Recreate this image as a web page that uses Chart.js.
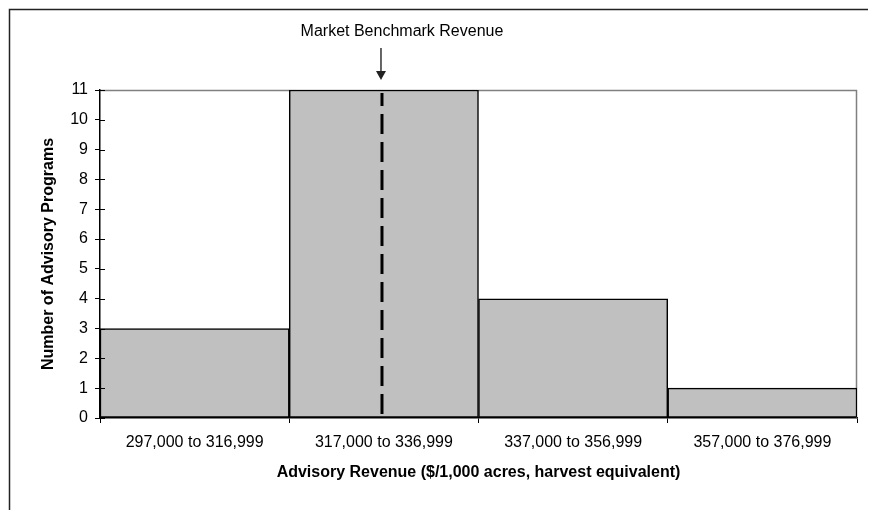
<!DOCTYPE html>
<html lang="en">
<head>
  <meta charset="UTF-8">
  <title>Advisory Revenue Distribution</title>
  <script src="https://cdn.jsdelivr.net/npm/chart.js"></script>
  <style>
    body {
      margin: 0;
      background-color: #ffffff;
    }
    #chart {
      display: block;
    }
  </style>
</head>
<body>
  <canvas id="chart" width="878" height="510"></canvas>

  <script>
    // Revenue bins ($/1,000 acres) and number of programs in each
    const binLabels = ['297,000 to 316,999', '317,000 to 336,999', '337,000 to 356,999', '357,000 to 376,999'];
    const programCounts = [3, 11, 4, 1];
    const yTicks = [0, 1, 2, 3, 4, 5, 6, 7, 8, 9, 10, 11];

    // Benchmark position, in revenue units
    const binStart = 297000;
    const binWidth = 20000;
    const benchmarkRevenue = 326800;
    const benchmarkLabel = 'Market Benchmark Revenue';

    const fontFamily = "'Liberation Sans', Arial, sans-serif";

    // Frame, plot border, inner y ticks, benchmark line and arrow
    const extrasPlugin = {
      id: 'extras',
      beforeDatasetsDraw(chart) {
        const ctx = chart.ctx;
        const a = chart.chartArea;
        ctx.save();
        ctx.strokeStyle = '#808080';
        ctx.lineWidth = 1.5;
        ctx.beginPath();
        ctx.moveTo(a.left, a.top + 0.5);
        ctx.lineTo(a.right - 0.5, a.top + 0.5);
        ctx.lineTo(a.right - 0.5, a.bottom);
        ctx.stroke();
        ctx.restore();
      },
      afterDraw(chart) {
        const ctx = chart.ctx;
        const a = chart.chartArea;
        const x = chart.scales.x;
        const y = chart.scales.y;
        ctx.save();

        // outer frame (top and left edges)
        ctx.strokeStyle = '#222222';
        ctx.lineWidth = 1.5;
        ctx.beginPath();
        ctx.moveTo(9.5, 510);
        ctx.lineTo(9.5, 9.5);
        ctx.lineTo(868, 9.5);
        ctx.stroke();

        // y ticks crossing into the plot
        ctx.strokeStyle = '#000000';
        ctx.lineWidth = 1;
        yTicks.forEach(function (v) {
          const py = Math.round(y.getPixelForValue(v)) + 0.5;
          ctx.beginPath();
          ctx.moveTo(a.left, py);
          ctx.lineTo(a.left + 5, py);
          ctx.stroke();
        });

        // benchmark dashed line
        const bx = x.getPixelForValue((benchmarkRevenue - binStart) / binWidth - 0.5);
        ctx.strokeStyle = '#000000';
        ctx.lineWidth = 3;
        ctx.setLineDash([20, 8]);
        ctx.lineDashOffset = 7;
        ctx.beginPath();
        ctx.moveTo(bx, a.top + 3);
        ctx.lineTo(bx, a.bottom);
        ctx.stroke();
        ctx.setLineDash([]);

        // arrow
        ctx.strokeStyle = '#333333';
        ctx.fillStyle = '#222222';
        ctx.lineWidth = 1.5;
        ctx.beginPath();
        ctx.moveTo(bx - 1, 48);
        ctx.lineTo(bx - 1, 72);
        ctx.stroke();
        ctx.beginPath();
        ctx.moveTo(bx - 6, 71);
        ctx.lineTo(bx + 4, 71);
        ctx.lineTo(bx - 1, 80);
        ctx.closePath();
        ctx.fill();

        // label
        ctx.fillStyle = '#000000';
        ctx.font = '16px ' + fontFamily;
        ctx.textAlign = 'center';
        ctx.textBaseline = 'middle';
        ctx.fillText(benchmarkLabel, bx + 20, 32);
        ctx.restore();
      }
    };

    new Chart(document.getElementById('chart').getContext('2d'), {
      type: 'bar',
      data: {
        labels: binLabels,
        datasets: [{
          label: 'Number of Advisory Programs',
          data: programCounts,
          backgroundColor: '#c0c0c0',
          borderColor: '#000000',
          borderWidth: 1.5,
          borderSkipped: false,
          barPercentage: 1,
          categoryPercentage: 1
        }]
      },
      options: {
        responsive: false,
        animation: false,
        devicePixelRatio: 1,
        layout: {
          padding: { top: 90, right: 21, left: 0, bottom: 0 }
        },
        plugins: {
          legend: { display: false },
          tooltip: { enabled: false }
        },
        scales: {
          x: {
            afterFit(scale) { scale.height = 92; },
            grid: {
              offset: true,
              drawOnChartArea: false,
              tickLength: 5,
              color: '#000000'
            },
            border: { color: '#000000', width: 1.5 },
            ticks: {
              color: '#000000',
              padding: 10,
              font: { family: fontFamily, size: 16 }
            },
            title: {
              display: true,
              text: 'Advisory Revenue ($/1,000 acres, harvest equivalent)',
              color: '#000000',
              padding: { top: 0, bottom: 28 },
              font: { family: fontFamily, size: 16, weight: 'bold' }
            }
          },
          y: {
            min: 0,
            max: 11,
            afterFit(scale) { scale.width = 100; },
            afterBuildTicks(scale) {
              scale.ticks = yTicks.map(function (v) { return { value: v }; });
            },
            grid: {
              drawOnChartArea: false,
              tickLength: 5,
              color: '#000000'
            },
            border: { color: '#000000', width: 1.5 },
            ticks: {
              color: '#000000',
              padding: 7,
              font: { family: fontFamily, size: 16 }
            },
            title: {
              display: true,
              text: 'Number of Advisory Programs',
              color: '#000000',
              padding: { top: 39, bottom: 0 },
              font: { family: fontFamily, size: 16, weight: 'bold' }
            }
          }
        }
      },
      plugins: [extrasPlugin]
    });
  </script>
</body>
</html>
